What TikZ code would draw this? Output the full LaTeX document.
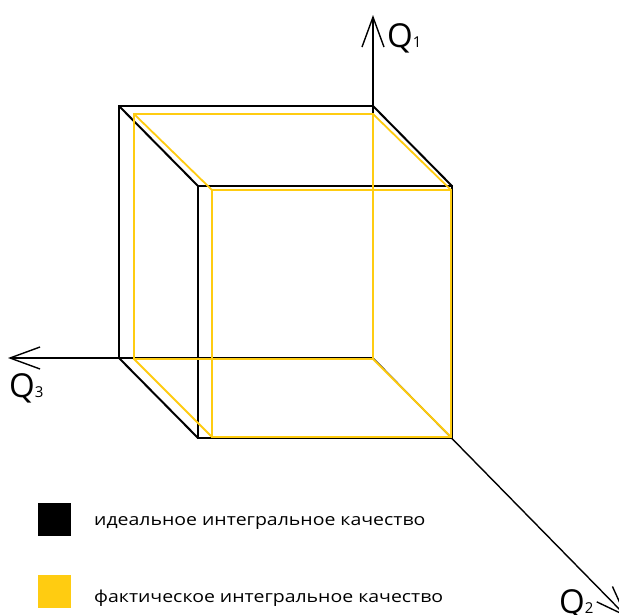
\documentclass[tikz,border=0pt]{standalone}
\usepackage{fontspec}
\setmainfont{Open Sans}
\newfontfamily\legendfont[FakeStretch=1.18]{Open Sans}
\usetikzlibrary{arrows.meta}
\definecolor{qyellow}{HTML}{FFCC11}
\tikzset{
  blackedge/.style={draw=black, line width=2pt, line join=miter},
  yellowedge/.style={draw=qyellow, line width=1.8pt, line join=miter},
  axisline/.style={draw=black, line width=1.4pt, -{Straight Barb[length=30pt,width=22pt,line width=1.4pt]}},
  qlabel/.style={anchor=base west, inner sep=0pt, font=\fontsize{33}{33}\selectfont},
  legendbox/.style={minimum width=33pt, minimum height=33pt, inner sep=0pt, anchor=north west},
  legendtext/.style={anchor=base west, inner sep=0pt, font=\legendfont\fontsize{16.5}{16.5}\selectfont}
}
\newcommand{\qsub}[1]{{\fontsize{15}{15}\selectfont #1}}
\begin{document}
\begin{tikzpicture}[x=1pt,y=-1pt]
\useasboundingbox[fill=white] (0,0) rectangle (619,614);
% black cube corners
\coordinate (bA) at (119,106);
\coordinate (bB) at (373,106);
\coordinate (bD) at (119,358);
\coordinate (fA) at (198,186);
\coordinate (fB) at (452,186);
\coordinate (fC) at (452,438);
\coordinate (fD) at (198,438);
% axes
\coordinate (O) at (373,358);
\coordinate (q1) at (373,15);
\coordinate (q3) at (8,358);
\coordinate (q2) at (627,617);
\draw[axisline] (O) -- (q1);
\draw[axisline] (O) -- (q3);
\draw[axisline] (O) -- (q2);
% black cube visible edges
\draw[blackedge] (fA) -- (fB) -- (fC) -- (fD) -- cycle;
\draw[blackedge] (bD) -- (bA) -- (bB);
\draw[blackedge] (bA) -- (fA);
\draw[blackedge] (bB) -- (fB);
\draw[blackedge] (bD) -- (fD);
% yellow cube
\coordinate (yA) at (134,114);
\coordinate (yB) at (373,114);
\coordinate (yC) at (373,359);
\coordinate (yD) at (134,359);
\coordinate (yE) at (212,190);
\coordinate (yF) at (451,190);
\coordinate (yG) at (451,437);
\coordinate (yH) at (212,437);
\draw[yellowedge] (yA) -- (yB) -- (yC) -- (yD) -- cycle;
\draw[yellowedge] (yE) -- (yF) -- (yG) -- (yH) -- cycle;
\draw[yellowedge] (yA) -- (yE);
\draw[yellowedge] (yB) -- (yF);
\draw[yellowedge] (yC) -- (yG);
\draw[yellowedge] (yD) -- (yH);
% axis labels
\node[qlabel] (l1) at (387,47) {Q\qsub{1}};
\node[qlabel] (l3) at (9,397) {Q\qsub{3}};
\node[qlabel] (l2) at (559,613) {Q\qsub{2}};
% legend
\node[legendbox, fill=black] (k1) at (38,503) {};
\node[legendbox, fill=qyellow] (k2) at (38,575) {};
\node[legendtext] (t1) at (94,525) {идеальное интегральное качество};
\node[legendtext] (t2) at (94,602) {фактическое интегральное качество};
\end{tikzpicture}
\end{document}
